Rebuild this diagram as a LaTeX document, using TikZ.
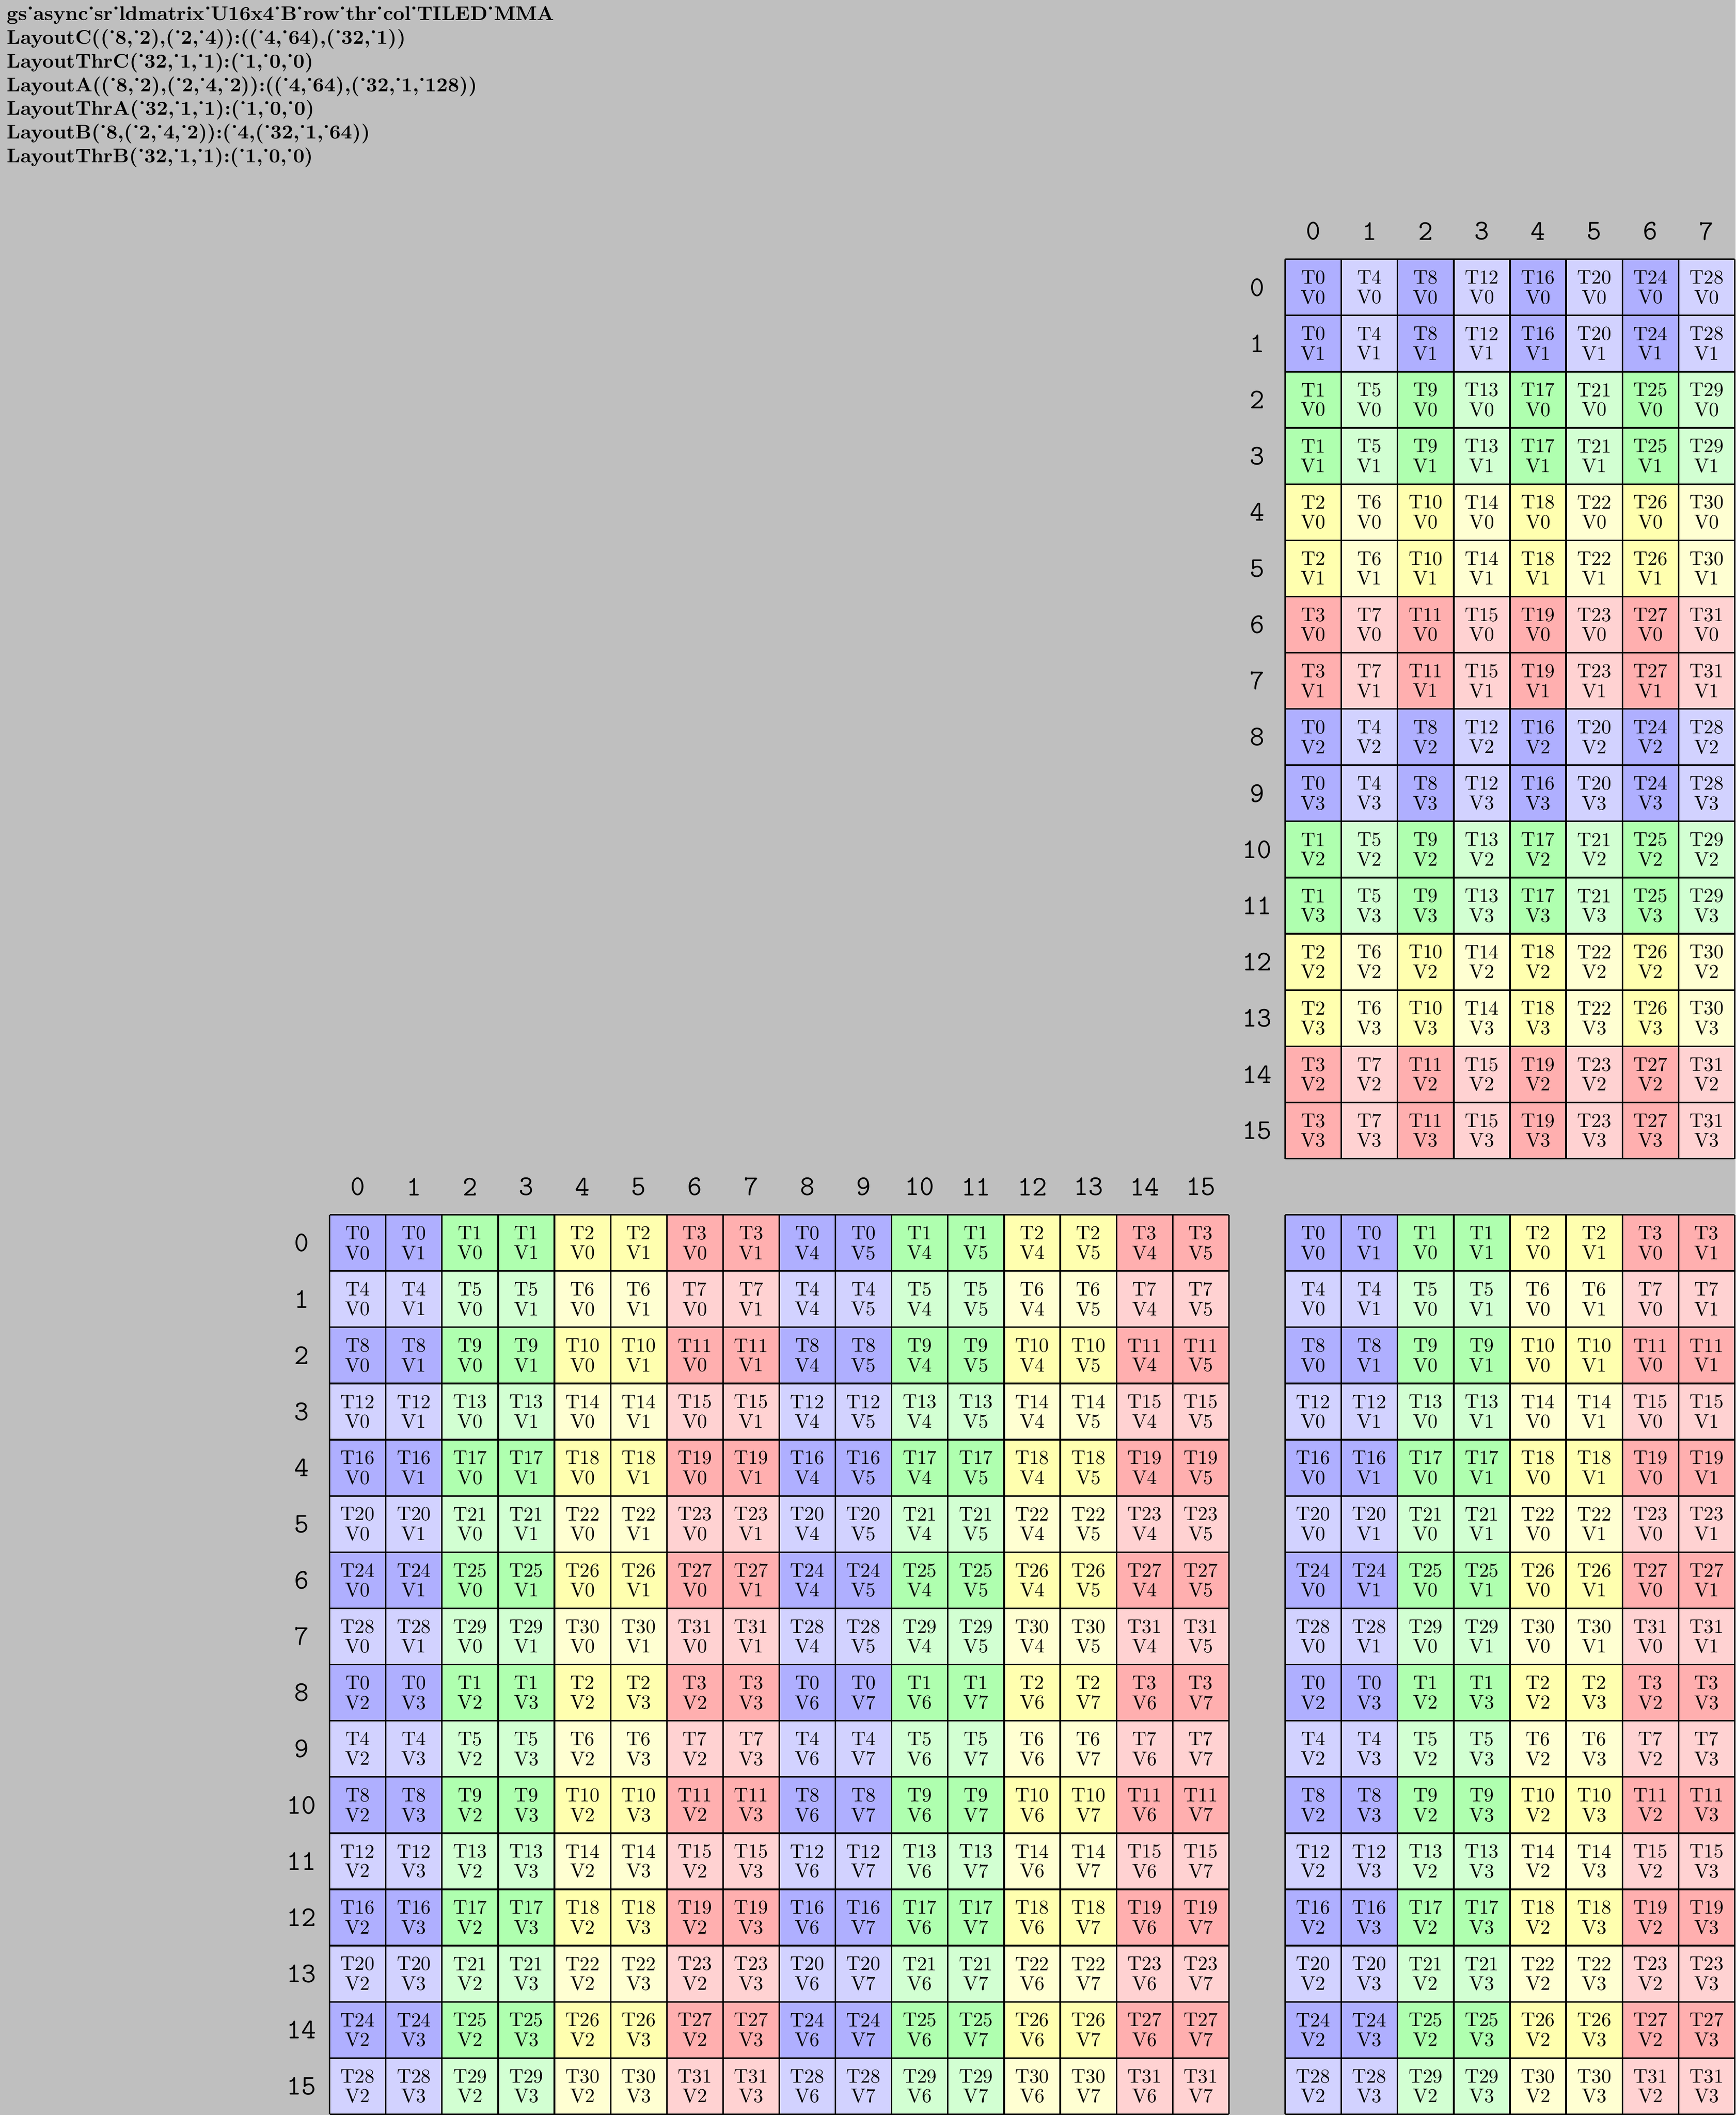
\documentclass[tikz,border=0pt]{standalone}
\definecolor{bgc}{RGB}{191,191,191}
\definecolor{tc0}{RGB}{175,175,255}
\definecolor{tc1}{RGB}{175,255,175}
\definecolor{tc2}{RGB}{255,255,175}
\definecolor{tc3}{RGB}{255,175,175}
\definecolor{tc4}{RGB}{210,210,255}
\definecolor{tc5}{RGB}{210,255,210}
\definecolor{tc6}{RGB}{255,255,210}
\definecolor{tc7}{RGB}{255,210,210}
\tikzset{
  cell/.style={minimum size=1cm, inner sep=0pt, outer sep=0pt, fill=#1},
  lab/.style={inner sep=0pt, font=\Large\ttfamily},
  hdr/.style={anchor=base west, inner sep=0pt, font=\bfseries},
  gridline/.style={draw=black, thick},
}
\begin{document}
\begin{tikzpicture}
\fill[bgc] (0,0) rectangle (30.878,-37.626);
\useasboundingbox (0,0) rectangle (30.878,-37.626);
% header
\node[hdr] (h1) at (0.117,-0.3615) {gs˙async˙sr˙ldmatrix˙U16x4˙B˙row˙thr˙col˙TILED˙MMA};
\node[hdr] (h2) at (0.117,-0.7833) {LayoutC((˙8,˙2),(˙2,˙4)):((˙4,˙64),(˙32,˙1))};
\node[hdr] (h3) at (0.117,-1.2051) {LayoutThrC(˙32,˙1,˙1):(˙1,˙0,˙0)};
\node[hdr] (h4) at (0.117,-1.6269) {LayoutA((˙8,˙2),(˙2,˙4,˙2)):((˙4,˙64),(˙32,˙1,˙128))};
\node[hdr] (h5) at (0.117,-2.0487) {LayoutThrA(˙32,˙1,˙1):(˙1,˙0,˙0)};
\node[hdr] (h6) at (0.117,-2.4705) {LayoutB(˙8,(˙2,˙4,˙2)):(˙4,(˙32,˙1,˙64))};
\node[hdr] (h7) at (0.117,-2.8923) {LayoutThrB(˙32,˙1,˙1):(˙1,˙0,˙0)};
% C matrix
\foreach \m in {0,...,15}{
  \foreach \n in {0,...,7}{
    \pgfmathtruncatemacro{\thr}{4*mod(\m,8)+floor(\n/2)}
    \pgfmathtruncatemacro{\val}{mod(\n,2)+2*floor(\m/8)}
    \pgfmathtruncatemacro{\ci}{mod(\thr,8)}
    \node[cell=tc\ci] (c-\m-\n) at (23.364+\n,-22.112-\m) {\shortstack{T\thr\\V\val}};
  }
}
% A matrix
\foreach \m in {0,...,15}{
  \foreach \k in {0,...,15}{
    \pgfmathtruncatemacro{\thr}{4*mod(\m,8)+floor(mod(\k,8)/2)}
    \pgfmathtruncatemacro{\val}{mod(\k,2)+2*floor(\m/8)+4*floor(\k/8)}
    \pgfmathtruncatemacro{\ci}{mod(\thr,8)}
    \node[cell=tc\ci] (a-\m-\k) at (6.364+\k,-22.112-\m) {\shortstack{T\thr\\V\val}};
  }
}
% B matrix
\foreach \k in {0,...,15}{
  \foreach \n in {0,...,7}{
    \pgfmathtruncatemacro{\thr}{4*\n+floor(mod(\k,8)/2)}
    \pgfmathtruncatemacro{\val}{mod(\k,2)+2*floor(\k/8)}
    \pgfmathtruncatemacro{\ci}{mod(\thr,8)}
    \node[cell=tc\ci] (b-\k-\n) at (23.364+\n,-5.112-\k) {\shortstack{T\thr\\V\val}};
  }
}
% grids
\draw[gridline, shift={(22.864,-37.612)}] (0,0) grid (8,16);
\draw[gridline, shift={(5.864,-37.612)}] (0,0) grid (16,16);
\draw[gridline, shift={(22.864,-20.612)}] (0,0) grid (8,16);
% labels A
\foreach \k in {0,...,15}{
  \node[lab] (la-col-\k) at (6.364+\k,-21.112) {\k};
}
\foreach \m in {0,...,15}{
  \node[lab] (la-row-\m) at (5.364,-22.112-\m) {\m};
}
% labels B
\foreach \n in {0,...,7}{
  \node[lab] (lb-col-\n) at (23.364+\n,-4.112) {\n};
}
\foreach \k in {0,...,15}{
  \node[lab] (lb-row-\k) at (22.364,-5.112-\k) {\k};
}
\end{tikzpicture}
\end{document}
